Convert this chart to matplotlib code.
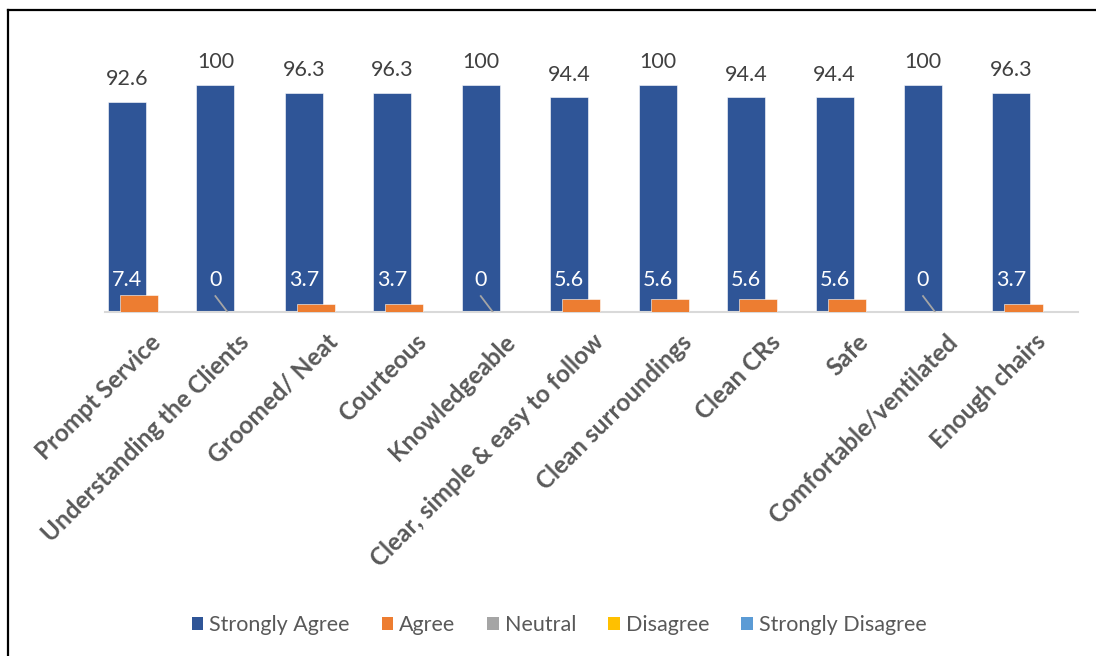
import numpy as np
import matplotlib.pyplot as plt
from matplotlib.patches import Patch
from matplotlib.lines import Line2D

plt.rcParams['font.family'] = ['Lato', 'DejaVu Sans']

categories = ['Prompt Service', 'Understanding the Clients', 'Groomed/ Neat', 'Courteous',
              'Knowledgeable', 'Clear, simple & easy to follow', 'Clean surroundings',
              'Clean CRs', 'Safe', 'Comfortable/ventilated', 'Enough chairs']
series_names = ['Strongly Agree', 'Agree', 'Neutral', 'Disagree', 'Strongly Disagree']
strongly_agree = [92.6, 100, 96.3, 96.3, 100, 94.4, 100, 94.4, 94.4, 100, 96.3]
agree = [7.4, 0, 3.7, 3.7, 0, 5.6, 5.6, 5.6, 5.6, 0, 3.7]
neutral = [0] * 11
disagree = [0] * 11
strongly_disagree = [0] * 11
colors = ['#2F5597', '#ED7D31', '#A5A5A5', '#FFC000', '#5B9BD5']

W, H = 1096, 656
fig = plt.figure(figsize=(W / 100, H / 100), dpi=100)
ax = fig.add_axes([105 / W, (H - 312) / H, (1078 - 105) / W, (312 - 62) / H])

x = np.arange(len(categories))
step = 0.136
width = 0.43
all_series = [strongly_agree, agree, neutral, disagree, strongly_disagree]
for k, vals in enumerate(all_series):
    pos = x + (k - 2) * step + 0.02
    vals = np.array(vals)
    ax.bar(pos[vals > 0], vals[vals > 0], width, color=colors[k],
           edgecolor='white', linewidth=0.4, zorder=2 + k)

label_col = '#404040'
blue_pos = x - 2 * step + 0.02
orange_pos = x - step + 0.02
for xi, v in zip(blue_pos, strongly_agree):
    ax.text(xi, v + 10, f'{v:g}', ha='center', va='center', fontsize=15.5, color=label_col)

# Agree labels were pulled up onto the blue bars, with leader lines where they sit far off
label_y = 14
for xb, xo, v in zip(blue_pos, orange_pos, agree):
    ax.text(xb, label_y, f'{v:g}', ha='center', va='center', fontsize=15.5,
            color='white', zorder=10)
    if label_y - 7 - v > 5:
        ax.plot([xb, xo], [label_y - 7, v], color='#A5A5A5', lw=1.3, zorder=9)

ax.set_xlim(-0.5, len(categories) - 0.5)
ax.set_ylim(0, 110)
ax.set_yticks([])
for s in ['top', 'right', 'left']:
    ax.spines[s].set_visible(False)
ax.spines['bottom'].set_color('#D9D9D9')
ax.spines['bottom'].set_linewidth(1.5)
ax.set_xticks(x)
ax.set_xticklabels(categories, rotation=45, ha='right', rotation_mode='anchor',
                   fontsize=17.5, fontweight='bold', color='#595959')
ax.tick_params(axis='x', length=0, pad=13)

handles = [Patch(facecolor=c, edgecolor='none') for c in colors]
fig.legend(handles, series_names, loc='center', bbox_to_anchor=(0.51, (H - 625) / H),
           ncol=5, frameon=False, fontsize=15.5, handlelength=0.55, handleheight=0.55,
           handletextpad=0.25, columnspacing=1.5, labelcolor='#595959')

# outer frame: left and top edges only
fig.add_artist(Line2D([8 / W, 8 / W], [0, (H - 10) / H], color='black', lw=1.6,
                      transform=fig.transFigure))
fig.add_artist(Line2D([8 / W, 1], [(H - 10) / H, (H - 10) / H], color='black', lw=1.6,
                      transform=fig.transFigure))

fig.savefig('out.png', dpi=100)
